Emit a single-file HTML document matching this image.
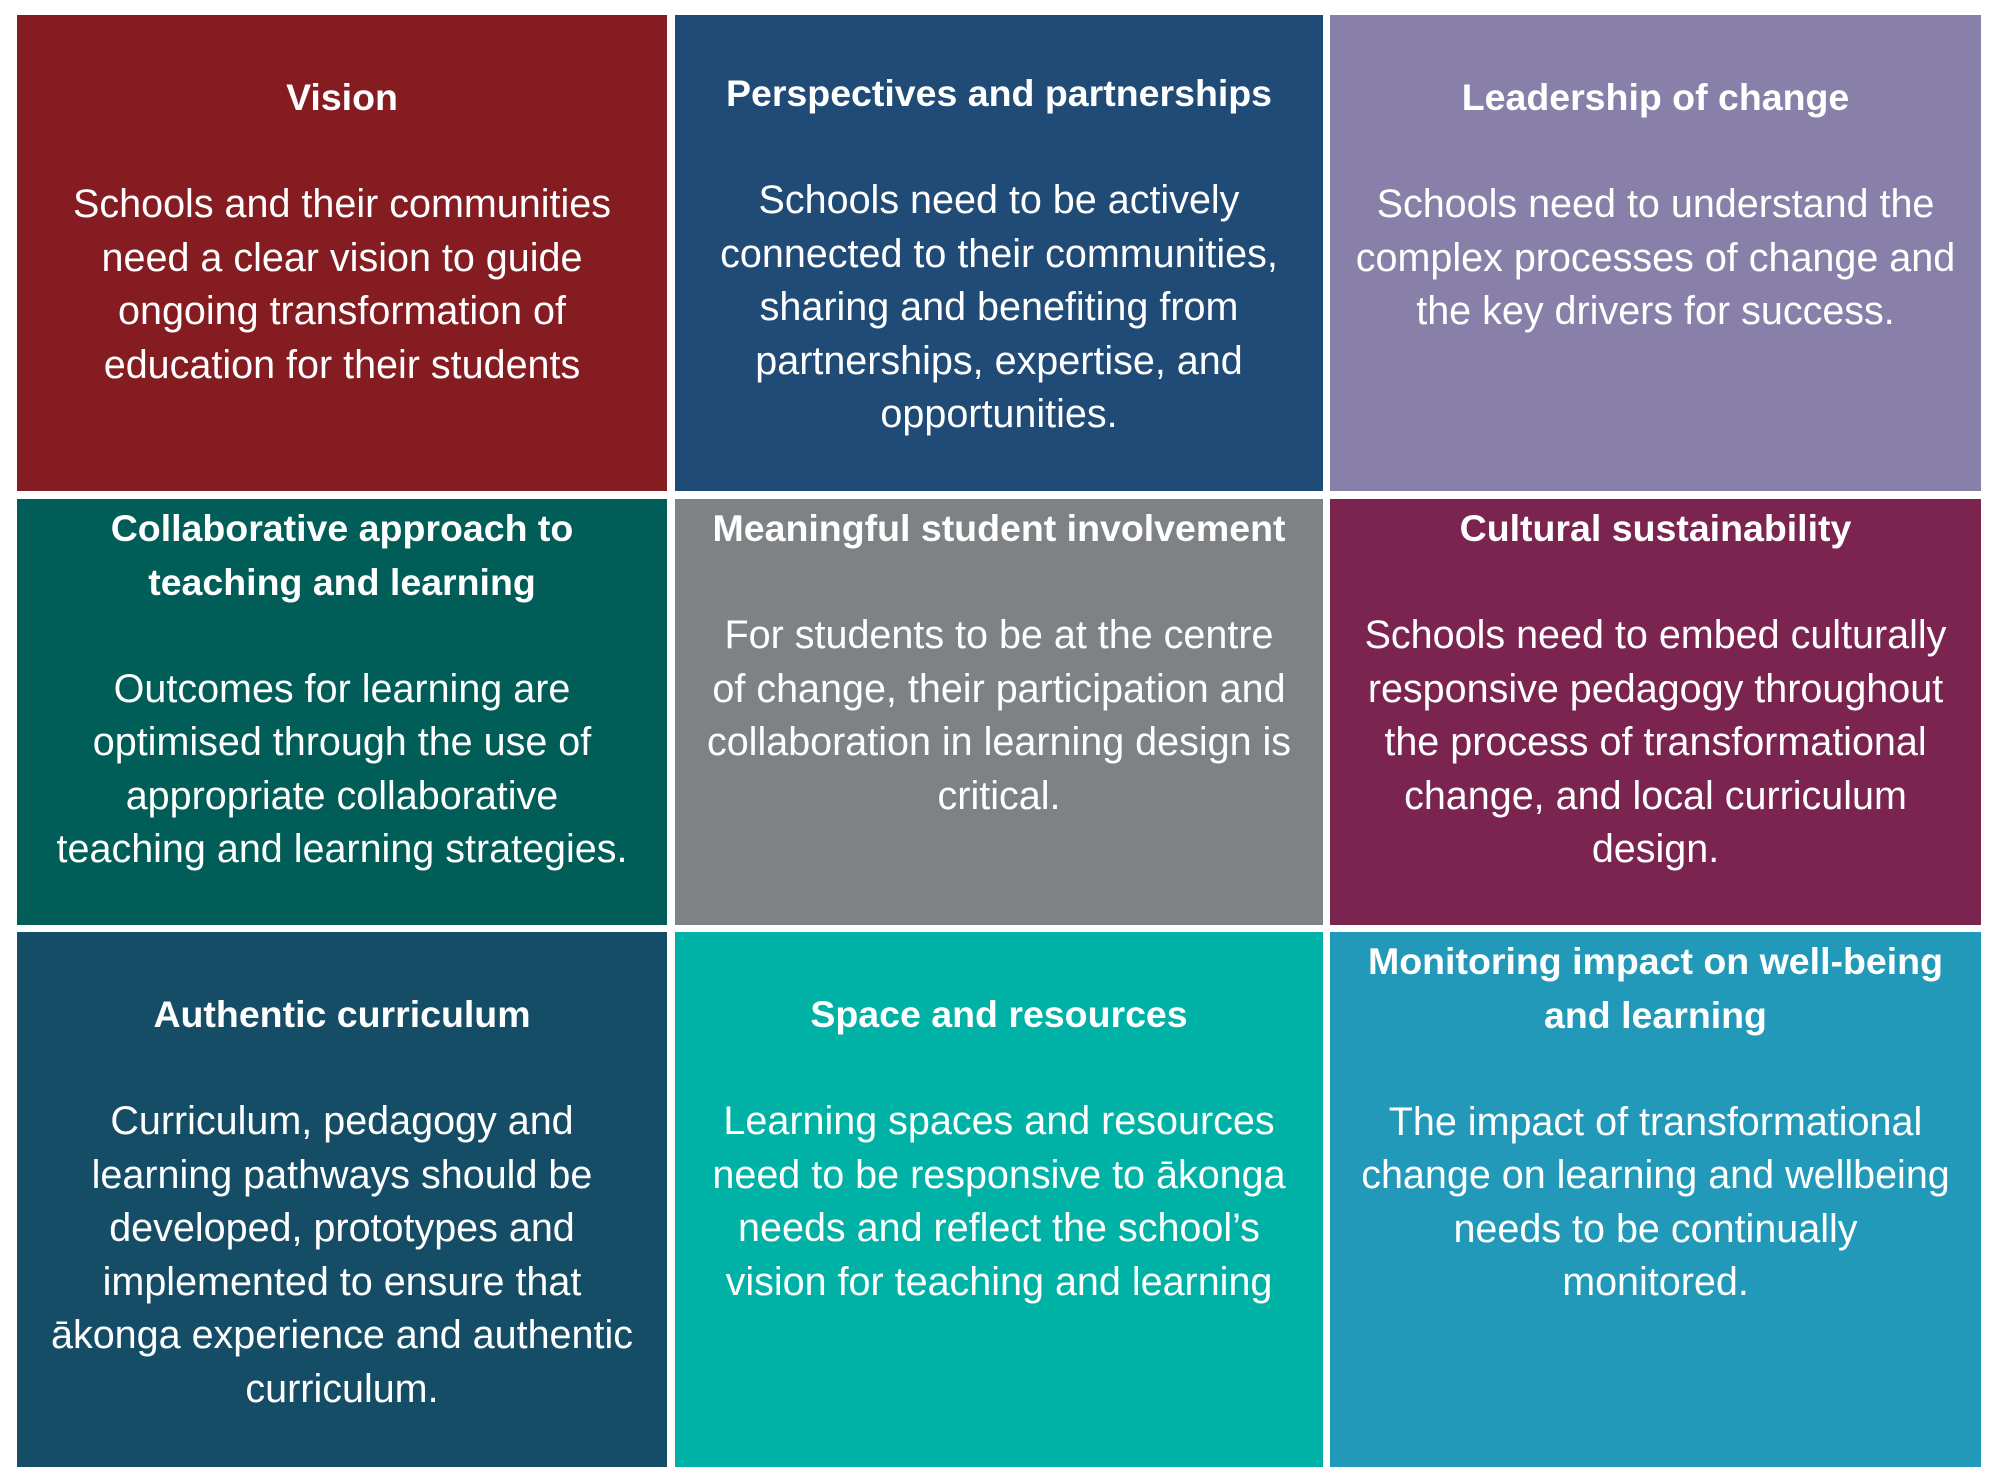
<!DOCTYPE html>
<html><head><meta charset="utf-8"><style>
html,body{margin:0;padding:0;background:#fff;width:2000px;height:1482px;overflow:hidden}
.c{position:absolute}
.t{position:absolute;left:0;right:0;text-align:center;color:#fff;font-family:"Liberation Sans",sans-serif;font-size:39.5px;line-height:53.5px;white-space:nowrap}
.t b{font-weight:bold;font-size:37.5px}
</style></head><body>
<div class="c" style="left:17px;top:15px;width:650px;height:476px;background:#841c22"></div>
<div class="c" style="left:675px;top:15px;width:648px;height:476px;background:#214b77"></div>
<div class="c" style="left:1330px;top:15px;width:651px;height:476px;background:#8980a9"></div>
<div class="c" style="left:17px;top:499px;width:650px;height:426px;background:#015d57"></div>
<div class="c" style="left:675px;top:499px;width:648px;height:426px;background:#7f8284"></div>
<div class="c" style="left:1330px;top:499px;width:651px;height:426px;background:#7b2450"></div>
<div class="c" style="left:17px;top:932px;width:650px;height:535px;background:#154d66"></div>
<div class="c" style="left:675px;top:932px;width:648px;height:535px;background:#00b2a6"></div>
<div class="c" style="left:1330px;top:932px;width:651px;height:535px;background:#2399b9"></div>

<div class="t" style="left:17px;width:650px;top:71px"><b>Vision</b><br><br>Schools and their communities<br>need a clear vision to guide<br>ongoing transformation of<br>education for their students</div>
<div class="t" style="left:675px;width:648px;right:auto;top:67px"><b>Perspectives and partnerships</b><br><br>Schools need to be actively<br>connected to their communities,<br>sharing and benefiting from<br>partnerships, expertise, and<br>opportunities.</div>
<div class="t" style="left:1330px;width:651px;right:auto;top:71px"><b>Leadership of change</b><br><br>Schools need to understand the<br>complex processes of change and<br>the key drivers for success.</div>

<div class="t" style="left:17px;width:650px;right:auto;top:502px"><b>Collaborative approach to<br>teaching and learning</b><br><br>Outcomes for learning are<br>optimised through the use of<br>appropriate collaborative<br>teaching and learning strategies.</div>
<div class="t" style="left:675px;width:648px;right:auto;top:502px"><b>Meaningful student involvement</b><br><br>For students to be at the centre<br>of change, their participation and<br>collaboration in learning design is<br>critical.</div>
<div class="t" style="left:1330px;width:651px;right:auto;top:502px"><b>Cultural sustainability</b><br><br>Schools need to embed culturally<br>responsive pedagogy throughout<br>the process of transformational<br>change, and local curriculum<br>design.</div>

<div class="t" style="left:17px;width:650px;right:auto;top:988px"><b>Authentic curriculum</b><br><br>Curriculum, pedagogy and<br>learning pathways should be<br>developed, prototypes and<br>implemented to ensure that<br>ākonga experience and authentic<br>curriculum.</div>
<div class="t" style="left:675px;width:648px;right:auto;top:988px"><b>Space and resources</b><br><br>Learning spaces and resources<br>need to be responsive to ākonga<br>needs and reflect the school’s<br>vision for teaching and learning</div>
<div class="t" style="left:1330px;width:651px;right:auto;top:935px"><b>Monitoring impact on well-being<br>and learning</b><br><br>The impact of transformational<br>change on learning and wellbeing<br>needs to be continually<br>monitored.</div>
</body></html>
